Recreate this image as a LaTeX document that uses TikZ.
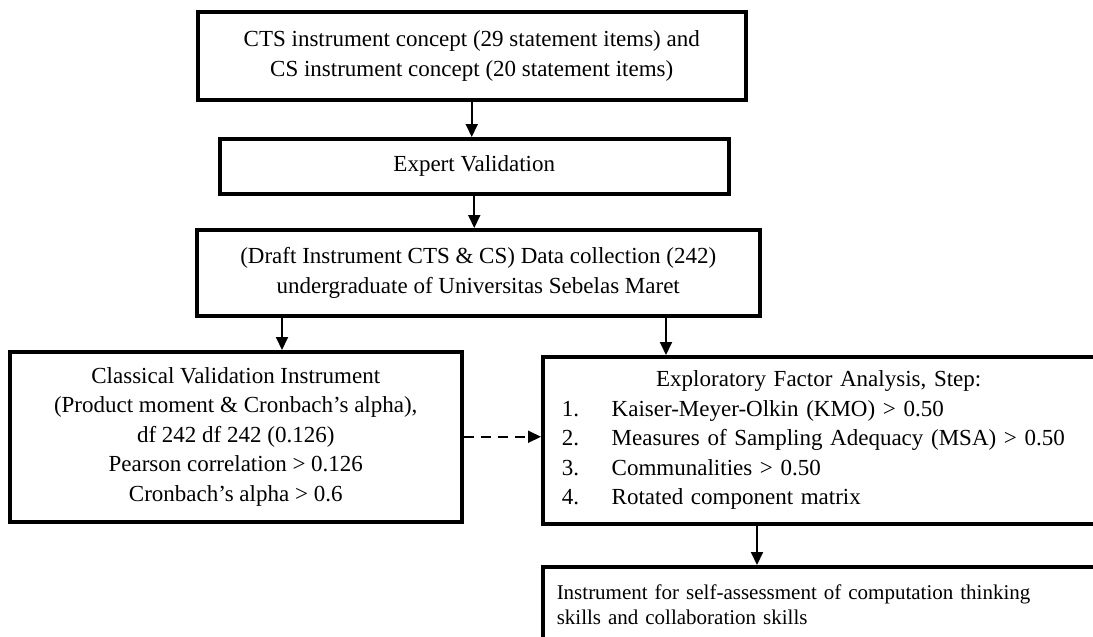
\documentclass[tikz,border=0pt]{standalone}
\usepackage{fontspec}
\setmainfont{Liberation Serif}
\usetikzlibrary{arrows.meta,positioning}

\tikzset{
  caja/.style={draw, line width=3.5pt, align=center, inner sep=0pt,
    font=\fontsize{23}{29.5}\selectfont},
  flecha/.style={line width=2pt, -{Triangle[length=13pt,width=12pt]}},
}

\begin{document}
\begin{tikzpicture}[x=1pt,y=-1pt]
  \useasboundingbox (0,0) rectangle (1093,637);

  % Cajas
  \node[caja, minimum width=548, minimum height=88, anchor=north west] (concepto) at (196,10)
    {CTS instrument concept (29 statement items) and\\CS instrument concept (20 statement items)};
  \node[caja, minimum width=509, minimum height=55, anchor=north west] (experto) at (218,137)
    {Expert Validation};
  \node[caja, minimum width=563, minimum height=86, anchor=north west] (borrador) at (195,228)
    {(Draft Instrument CTS \& CS) Data collection (242)\\undergraduate of Universitas Sebelas Maret};
  \node[caja, minimum width=452, minimum height=170, anchor=north west] (clasica) at (8,350)
    {Classical Validation Instrument\\(Product moment \& Cronbach’s alpha),\\df 242 df 242 (0.126)\\Pearson correlation > 0.126\\Cronbach’s alpha > 0.6};
  \node[caja, align=left, text width=545, inner xsep=14pt, minimum height=167, anchor=north west] (efa) at (541,355)
    {\makebox[524pt]{Exploratory Factor Analysis, Step:}\\
     \hspace*{5pt}\makebox[50pt][l]{1.}Kaiser-Meyer-Olkin (KMO) > 0.50\\
     \hspace*{5pt}\makebox[50pt][l]{2.}Measures of Sampling Adequacy (MSA) > 0.50\\
     \hspace*{5pt}\makebox[50pt][l]{3.}Communalities > 0.50\\
     \hspace*{5pt}\makebox[50pt][l]{4.}Rotated component matrix};
  \node[caja, align=left, text width=545, inner xsep=14pt, minimum height=76, anchor=north west,
    font=\fontsize{21}{25}\selectfont] (instrumento) at (541,565)
    {Instrument for self-assessment of computation thinking\\skills and collaboration skills};

  % Puntos de salida
  \coordinate (tapL) at (282,0);
  \coordinate (tapR) at (666,0);
  \coordinate (tapB) at (757,0);

  % Flechas
  \draw[flecha] (concepto.south) -- (concepto.south |- experto.north);
  \draw[flecha] (experto.south) -- (experto.south |- borrador.north);
  \draw[flecha] (borrador.south -| tapL) -- (clasica.north -| tapL);
  \draw[flecha] (borrador.south -| tapR) -- (efa.north -| tapR);
  \draw[flecha] (efa.south -| tapB) -- (instrumento.north -| tapB);
  \draw[flecha, dash pattern=on 10pt off 7pt] (clasica.east) -- (clasica.east -| efa.west);

\end{tikzpicture}
\end{document}
